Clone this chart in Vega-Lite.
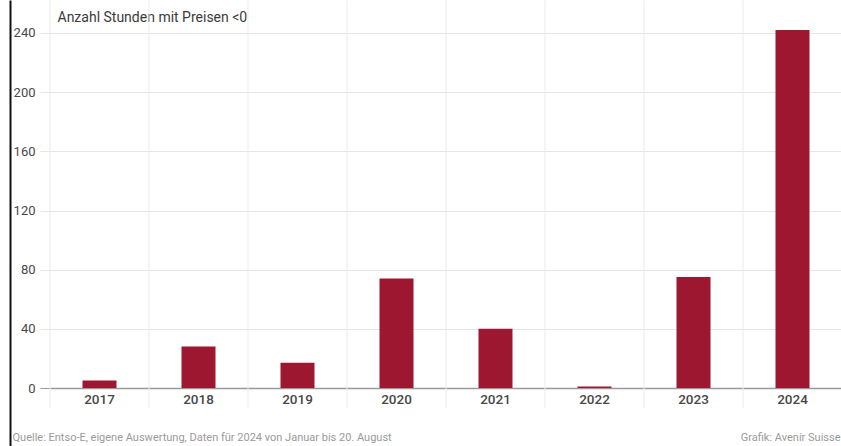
{
  "$schema": "https://vega.github.io/schema/vega-lite/v6.json",
  "width": 792,
  "height": 446,
  "autosize": "none",
  "padding": {"left": 50, "top": 0, "right": 0, "bottom": 0},
  "background": "white",
  "config": {"view": {"stroke": null}, "font": "Roboto, sans-serif"},
  "data": {"values": [
    {"year": "2017", "hours": 5},
    {"year": "2018", "hours": 28},
    {"year": "2019", "hours": 17},
    {"year": "2020", "hours": 74},
    {"year": "2021", "hours": 40},
    {"year": "2022", "hours": 1},
    {"year": "2023", "hours": 75},
    {"year": "2024", "hours": 242}
  ]},
  "layer": [
    {
      "mark": {"type": "rule", "color": "#ebebeb", "strokeWidth": 1},
      "encoding": {
        "x": {"field": "year", "type": "ordinal", "bandPosition": 0,
          "scale": {"paddingInner": 0, "paddingOuter": 0},
          "axis": {
            "orient": "bottom", "offset": -58, "domain": true, "domainColor": "#9a9a9a", "domainWidth": 1.5,
            "ticks": false, "grid": false, "labelAngle": 0, "labelFontSize": 13.5, "labelColor": "#484848",
            "labelFontWeight": 500, "labelPadding": 4,
            "title": "Quelle: Entso-E, eigene Auswertung, Daten für 2024 von Januar bis 20. August",
            "titleX": -38, "titleY": 49, "titleAlign": "left", "titleAnchor": "start", "titleBaseline": "middle",
            "titleFontSize": 11, "titleFontWeight": "normal", "titleColor": "#9a9a9a"
          }
        },
        "y": {"datum": 262, "type": "quantitative",
          "scale": {"domain": [-39.2, 262.3], "nice": false, "zero": false},
          "axis": {
            "orient": "left", "values": [0, 40, 80, 120, 160, 200, 240], "domain": false,
            "grid": true, "gridColor": {"condition": {"test": "datum.value === 0", "value": "#9a9a9a"}, "value": "#e6e6e6"},
            "tickSize": 10, "tickColor": {"condition": {"test": "datum.value === 0", "value": "#9a9a9a"}, "value": "#e6e6e6"},
            "labelFontSize": 13, "labelColor": "#484848", "labelPadding": 5,
            "title": "Anzahl Stunden mit Preisen <0", "titleAngle": 0, "titleAlign": "left", "titleBaseline": "middle",
            "titleX": 7, "titleY": 17, "titleFontSize": 14, "titleFontWeight": "normal", "titleColor": "#3a3a3a"
          }
        },
        "y2": {"datum": -13.5}
      }
    },
    {
      "mark": {"type": "bar", "color": "#9d1731", "width": 34},
      "encoding": {
        "x": {"field": "year", "type": "ordinal"},
        "y": {"field": "hours", "type": "quantitative",
          "axis": {
            "orient": "left", "offset": 40, "domain": true, "domainColor": "#111", "domainWidth": 2,
            "ticks": false, "labels": false, "grid": false,
            "title": "Grafik: Avenir Suisse", "titleAngle": 0, "titleAlign": "right", "titleBaseline": "middle",
            "titleX": 830, "titleY": 437, "titleFontSize": 11, "titleFontWeight": "normal", "titleColor": "#9a9a9a"
          }
        }
      }
    }
  ],
  "resolve": {"axis": {"y": "independent"}}
}
